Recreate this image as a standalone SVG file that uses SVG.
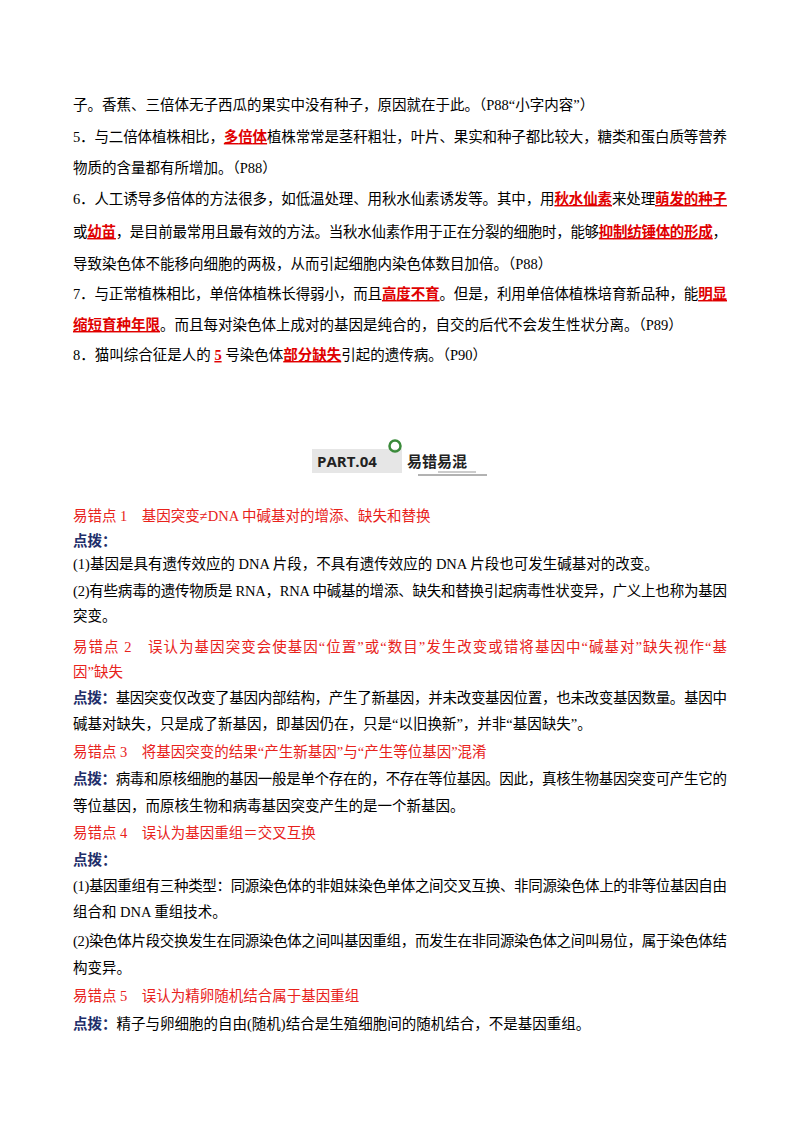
<svg xmlns="http://www.w3.org/2000/svg" width="800" height="1132" viewBox="0 0 800 1132">
<style>
text{font-family:"Liberation Serif","Noto Sans CJK SC",serif;font-size:14.5px;fill:#000}
.r{fill:#e00000;font-weight:bold;text-decoration:underline}
.b text,.b{font-family:"Liberation Serif","Noto Sans CJK SC",sans-serif;font-size:14.5px}
.h{fill:#e8221b}
.k{fill:#1f2f6b;font-weight:bold}
</style>
<rect width="800" height="1132" fill="#fff"/>
<g id="top">
<text x="73" y="110">子。香蕉、三倍体无子西瓜的果实中没有种子，原因就在于此。（P88“小字内容”）</text>
<text x="73" y="142" textLength="654" lengthAdjust="spacing">5．与二倍体植株相比，<tspan class="r">多倍体</tspan>植株常常是茎秆粗壮，叶片、果实和种子都比较大，糖类和蛋白质等营养</text>
<text x="73" y="173">物质的含量都有所增加。（P88）</text>
<text x="73" y="204" textLength="654" lengthAdjust="spacing">6．人工诱导多倍体的方法很多，如低温处理、用秋水仙素诱发等。其中，用<tspan class="r">秋水仙素</tspan>来处理<tspan class="r">萌发的种子</tspan></text>
<text x="73" y="237" textLength="654" lengthAdjust="spacing">或<tspan class="r">幼苗</tspan>，是目前最常用且最有效的方法。当秋水仙素作用于正在分裂的细胞时，能够<tspan class="r">抑制纺锤体的形成</tspan>，</text>
<text x="73" y="269">导致染色体不能移向细胞的两极，从而引起细胞内染色体数目加倍。（P88）</text>
<text x="73" y="299" textLength="654" lengthAdjust="spacing">7．与正常植株相比，单倍体植株长得弱小，而且<tspan class="r">高度不育</tspan>。但是，利用单倍体植株培育新品种，能<tspan class="r">明显</tspan></text>
<text x="73" y="330"><tspan class="r">缩短育种年限</tspan>。而且每对染色体上成对的基因是纯合的，自交的后代不会发生性状分离。（P89）</text>
<text x="73" y="360">8．猫叫综合征是人的 <tspan class="r">5</tspan> 号染色体<tspan class="r">部分缺失</tspan>引起的遗传病。（P90）</text>
</g>
<g id="header">
<rect x="312" y="449" width="90" height="24" fill="#e6e6e6"/>
<text x="317" y="467" style="font-family:'Open Sans','DejaVu Sans',sans-serif;font-weight:bold;font-size:15px;fill:#222">PART.04</text>
<circle cx="395" cy="446" r="5.5" fill="none" stroke="#3a8a3a" stroke-width="2.5"/>
<text x="407" y="467" style="font-family:'Noto Sans CJK SC',sans-serif;font-weight:bold;font-size:15px;fill:#222">易错易混</text>
<line x1="418" y1="475" x2="487" y2="475" stroke="#666" stroke-width="1"/>
<line x1="438" y1="472" x2="476" y2="472" stroke="#999" stroke-width="1"/>
</g>
<g id="bottom" class="b">
<text x="73" y="521" class="h">易错点 1　基因突变≠DNA 中碱基对的增添、缺失和替换</text>
<text x="73" y="546" class="k">点拨：</text>
<text x="73" y="569">(1)基因是具有遗传效应的 DNA 片段，不具有遗传效应的 DNA 片段也可发生碱基对的改变。</text>
<text x="73" y="596" textLength="654" lengthAdjust="spacing">(2)有些病毒的遗传物质是 RNA，RNA 中碱基的增添、缺失和替换引起病毒性状变异，广义上也称为基因</text>
<text x="73" y="621">突变。</text>
<text x="73" y="652" class="h" textLength="654" lengthAdjust="spacing">易错点 2　误认为基因突变会使基因“位置”或“数目”发生改变或错将基因中“碱基对”缺失视作“基</text>
<text x="73" y="677" class="h">因”缺失</text>
<text x="73" y="703" textLength="654" lengthAdjust="spacing"><tspan class="k">点拨：</tspan>基因突变仅改变了基因内部结构，产生了新基因，并未改变基因位置，也未改变基因数量。基因中</text>
<text x="73" y="729">碱基对缺失，只是成了新基因，即基因仍在，只是“以旧换新”，并非“基因缺失”。</text>
<text x="73" y="757" class="h">易错点 3　将基因突变的结果“产生新基因”与“产生等位基因”混淆</text>
<text x="73" y="784" textLength="654" lengthAdjust="spacing"><tspan class="k">点拨：</tspan>病毒和原核细胞的基因一般是单个存在的，不存在等位基因。因此，真核生物基因突变可产生它的</text>
<text x="73" y="811">等位基因，而原核生物和病毒基因突变产生的是一个新基因。</text>
<text x="73" y="838" class="h">易错点 4　误认为基因重组＝交叉互换</text>
<text x="73" y="865" class="k">点拨：</text>
<text x="73" y="891" textLength="654" lengthAdjust="spacing">(1)基因重组有三种类型：同源染色体的非姐妹染色单体之间交叉互换、非同源染色体上的非等位基因自由</text>
<text x="73" y="917">组合和 DNA 重组技术。</text>
<text x="73" y="946" textLength="654" lengthAdjust="spacing">(2)染色体片段交换发生在同源染色体之间叫基因重组，而发生在非同源染色体之间叫易位，属于染色体结</text>
<text x="73" y="973">构变异。</text>
<text x="73" y="1001" class="h">易错点 5　误认为精卵随机结合属于基因重组</text>
<text x="73" y="1029"><tspan class="k">点拨：</tspan>精子与卵细胞的自由(随机)结合是生殖细胞间的随机结合，不是基因重组。</text>
</g>
</svg>
